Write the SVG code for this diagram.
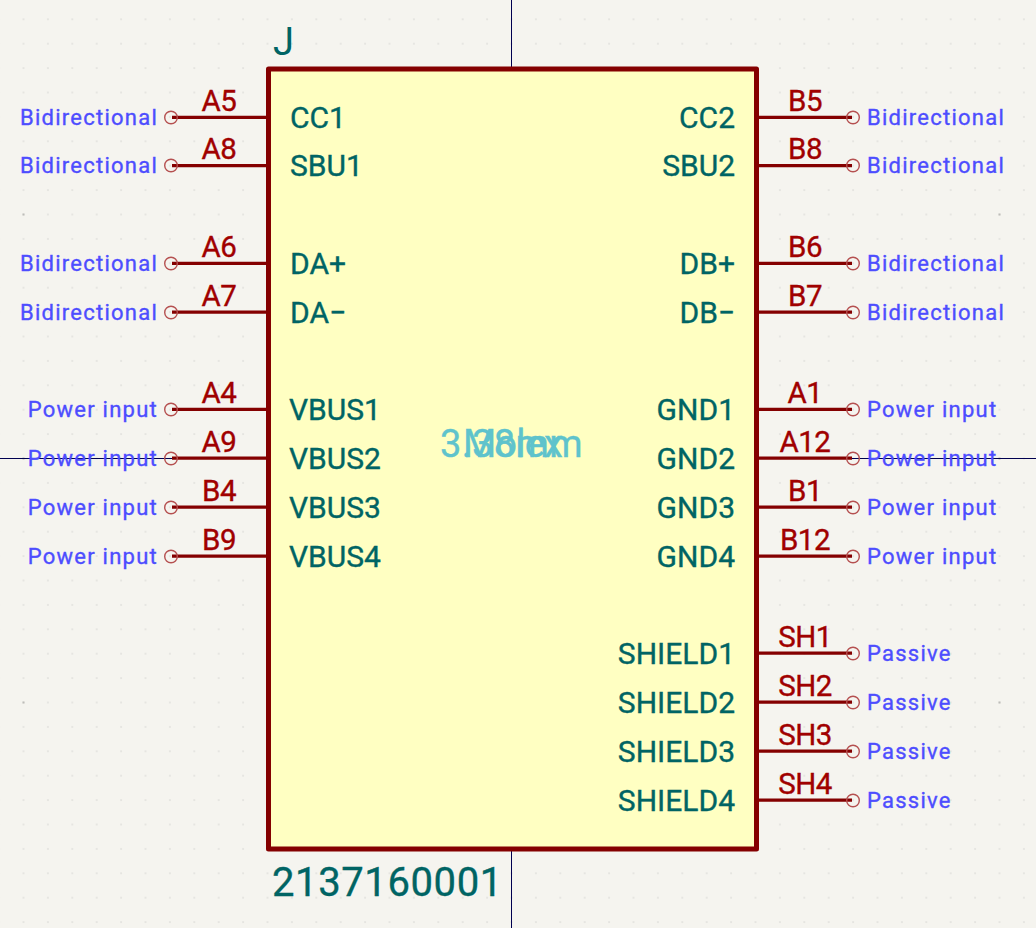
<svg xmlns="http://www.w3.org/2000/svg" width="1036" height="928" viewBox="0 0 1036 928">
<style>
text{font-family:Roboto,"Liberation Sans",sans-serif;stroke-width:.35px}
.t{fill:#4d4dff;stroke:#4d4dff;font-size:22px;letter-spacing:1.25px}
.n{fill:#006464;stroke:#006464;font-size:30px}
.p{fill:#a00000;stroke:#a00000;font-size:29.500px;letter-spacing:-.5px}
.e{text-anchor:end}.m{text-anchor:middle}
.w{stroke:#840000;stroke-width:3.2;fill:none}
.c{stroke:#b55050;stroke-width:1.4;fill:none}
.f{fill:#5fc3cc;stroke:#5fc3cc;font-size:38px;text-anchor:middle}
</style>
<defs>
<pattern id="g" x="22.5" y="18.300" width="24.4" height="24.4" patternUnits="userSpaceOnUse"><rect x="0.3" y="0.3" width="1.4" height="1.4" fill="#d8d8d4"/></pattern>
<pattern id="h" x="22.5" y="213.500" width="244" height="244" patternUnits="userSpaceOnUse"><rect x="0" y="0" width="2" height="2" fill="#bdbdb9"/></pattern>
</defs>
<rect width="1036" height="928" fill="#f5f4ef"/>
<rect width="1036" height="928" fill="url(#g)"/>
<rect width="1036" height="928" fill="url(#h)"/>
<g id="axes" stroke="#000050" stroke-width="1"><path d="M511.5 0V68M511.5 849V928M0 458.5H268M756 458.5H1036" fill="none"/></g>
<g id="body"><rect x="268.5" y="69" width="488" height="780" fill="#ffffc2" stroke="#840000" stroke-width="5" stroke-linejoin="round"/></g>
<g id="connectors">
<path class="w" d="M172 117.300H268M172 165.700H268M172 263.300H268M172 312.200H268M172 409.300H268M172 458.200H268M172 507.200H268M172 556.200H268M756 117.300H852M756 165.700H852M756 263.300H852M756 312.200H852M756 409.300H852M756 458.200H852M756 507.200H852M756 556.200H852M756 653.200H852M756 702.200H852M756 751.200H852M756 800.200H852"/>
<g class="c"><circle cx="171" cy="117.500" r="6.300"/><circle cx="171" cy="165.500" r="6.300"/><circle cx="171" cy="263.500" r="6.300"/><circle cx="171" cy="312.500" r="6.300"/><circle cx="171" cy="409.500" r="6.300"/><circle cx="171" cy="458.500" r="6.300"/><circle cx="171" cy="507.500" r="6.300"/><circle cx="171" cy="556.500" r="6.300"/><circle cx="853" cy="117.500" r="6.300"/><circle cx="853" cy="165.500" r="6.300"/><circle cx="853" cy="263.500" r="6.300"/><circle cx="853" cy="312.500" r="6.300"/><circle cx="853" cy="409.500" r="6.300"/><circle cx="853" cy="458.500" r="6.300"/><circle cx="853" cy="507.500" r="6.300"/><circle cx="853" cy="556.500" r="6.300"/><circle cx="853" cy="653.500" r="6.300"/><circle cx="853" cy="702.500" r="6.300"/><circle cx="853" cy="751.500" r="6.300"/><circle cx="853" cy="800.500" r="6.300"/></g>
</g>
<g id="labels-left">
<text class="p m" x="219" y="110.500">A5</text><text class="p m" x="219" y="159">A8</text><text class="p m" x="219" y="257">A6</text><text class="p m" x="219" y="306">A7</text><text class="p m" x="219" y="403">A4</text><text class="p m" x="219" y="452">A9</text><text class="p m" x="219" y="501">B4</text><text class="p m" x="219" y="550">B9</text>
<text class="n" x="290" y="128">CC1</text><text class="n" x="290" y="176">SBU1</text><text class="n" x="290" y="274">DA+</text><text class="n" x="290" y="323">DA−</text><text class="n" x="289" y="420">VBUS1</text><text class="n" x="289" y="469">VBUS2</text><text class="n" x="289" y="518">VBUS3</text><text class="n" x="289" y="567">VBUS4</text>
<text class="t e" x="158" y="125">Bidirectional</text><text class="t e" x="158" y="173">Bidirectional</text><text class="t e" x="158" y="271">Bidirectional</text><text class="t e" x="158" y="320">Bidirectional</text><text class="t e" x="158" y="417">Power input</text><text class="t e" x="158" y="466">Power input</text><text class="t e" x="158" y="515">Power input</text><text class="t e" x="158" y="564">Power input</text>
</g>
<g id="labels-right">
<text class="p m" x="805" y="110.500">B5</text><text class="p m" x="805" y="159">B8</text><text class="p m" x="805" y="257">B6</text><text class="p m" x="805" y="306">B7</text><text class="p m" x="805" y="403">A1</text><text class="p m" x="805" y="452">A12</text><text class="p m" x="805" y="501">B1</text><text class="p m" x="805" y="550">B12</text><text class="p m" x="805" y="647">SH1</text><text class="p m" x="805" y="696">SH2</text><text class="p m" x="805" y="745">SH3</text><text class="p m" x="805" y="794">SH4</text>
<text class="n e" x="735" y="128">CC2</text><text class="n e" x="735" y="176">SBU2</text><text class="n e" x="735" y="274">DB+</text><text class="n e" x="735" y="323">DB−</text><text class="n e" x="735" y="420">GND1</text><text class="n e" x="735" y="469">GND2</text><text class="n e" x="735" y="518">GND3</text><text class="n e" x="735" y="567">GND4</text><text class="n e" x="735" y="664">SHIELD1</text><text class="n e" x="735" y="713">SHIELD2</text><text class="n e" x="735" y="762">SHIELD3</text><text class="n e" x="735" y="811">SHIELD4</text>
<text class="t" x="867" y="125">Bidirectional</text><text class="t" x="867" y="173">Bidirectional</text><text class="t" x="867" y="271">Bidirectional</text><text class="t" x="867" y="320">Bidirectional</text><text class="t" x="867" y="417">Power input</text><text class="t" x="867" y="466">Power input</text><text class="t" x="867" y="515">Power input</text><text class="t" x="867" y="564">Power input</text><text class="t" x="867" y="661">Passive</text><text class="t" x="867" y="710">Passive</text><text class="t" x="867" y="759">Passive</text><text class="t" x="867" y="808">Passive</text>
</g>
<g id="fields">
<text x="273" y="55" fill="#006464" font-size="38">J</text>
<text x="272" y="896" fill="#006464" stroke="#006464" font-size="40" letter-spacing="0.6">2137160001</text>
<text class="f" x="511.500" y="457" letter-spacing=".4">3.38mm</text>
<text class="f" x="512.500" y="457" letter-spacing="-.8">Molex</text>
</g>
</svg>
